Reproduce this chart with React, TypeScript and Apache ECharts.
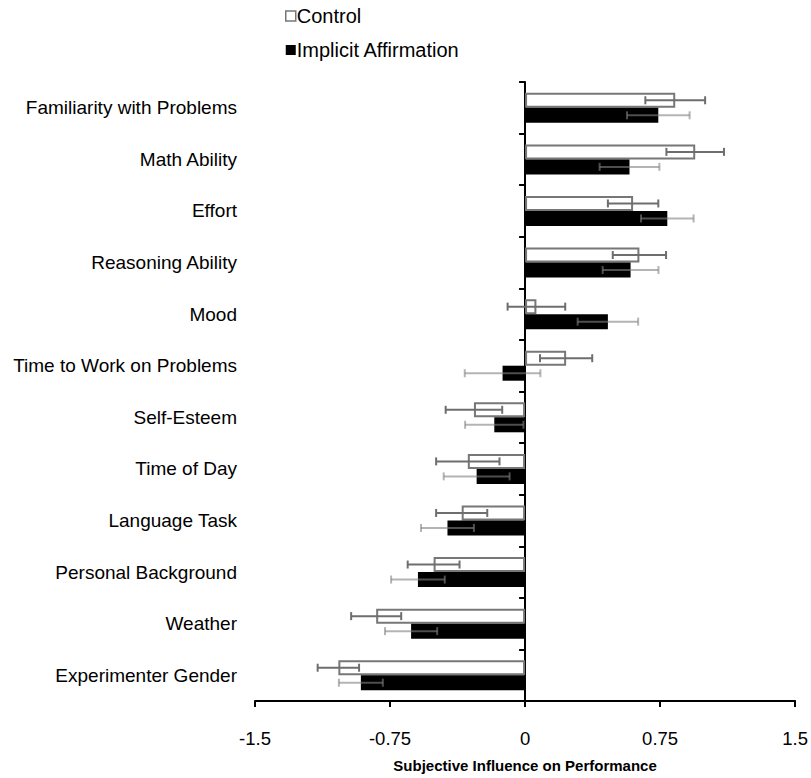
import React, { useEffect, useRef } from "react";
import * as echarts from "echarts";

const categories = [
  "Familiarity with Problems",
  "Math Ability",
  "Effort",
  "Reasoning Ability",
  "Mood",
  "Time to Work on Problems",
  "Self-Esteem",
  "Time of Day",
  "Language Task",
  "Personal Background",
  "Weather",
  "Experimenter Gender",
];
const controlValues = [0.834, 0.945, 0.6, 0.635, 0.063, 0.228, -0.284, -0.318, -0.352, -0.508, -0.827, -1.037];
const controlErrors = [0.166, 0.16, 0.14, 0.148, 0.16, 0.145, 0.157, 0.176, 0.142, 0.144, 0.139, 0.115];
const affirmValues = [0.74, 0.58, 0.79, 0.586, 0.46, -0.125, -0.171, -0.269, -0.431, -0.595, -0.633, -0.912];
const affirmErrors = [0.174, 0.166, 0.146, 0.155, 0.168, 0.21, 0.162, 0.183, 0.147, 0.149, 0.145, 0.122];
const xTicks = { min: -1.5, max: 1.5, interval: 0.75 };

const FONT = "Liberation Sans, Arial, sans-serif";
const BAR_W = 15;

function errorSeries(name: string, values: number[], errors: number[], offset: number, color: string) {
  return {
    type: "custom",
    name: name + " error",
    xAxisIndex: 0,
    yAxisIndex: 0,
    z: 5,
    silent: true,
    data: values.map((v, i) => [v - errors[i], v + errors[i], i]),
    renderItem: (params: any, api: any) => {
      const lo = api.coord([api.value(0), api.value(2)]);
      const hi = api.coord([api.value(1), api.value(2)]);
      const y = lo[1] + offset;
      const cap = 4;
      const style = { stroke: color, lineWidth: 2, fill: "none" };
      return {
        type: "group",
        children: [
          { type: "line", shape: { x1: lo[0], y1: y, x2: hi[0], y2: y }, style },
          { type: "line", shape: { x1: lo[0], y1: y - cap, x2: lo[0], y2: y + cap }, style },
          { type: "line", shape: { x1: hi[0], y1: y - cap, x2: hi[0], y2: y + cap }, style },
        ],
      };
    },
  };
}

export default function App() {
  const ref = useRef<HTMLDivElement>(null);
  useEffect(() => {
    if (!ref.current) return;
    const chart = echarts.init(ref.current, null, { renderer: "svg" });
    chart.setOption({
      animation: false,
      backgroundColor: "#ffffff",
      textStyle: { fontFamily: FONT },
      legend: {
        orient: "vertical",
        left: 280,
        top: 1,
        itemWidth: 10,
        itemHeight: 10,
        itemGap: 14,
        textStyle: { fontFamily: FONT, fontSize: 20, color: "#000", padding: [0, 0, 0, -4] },
        data: [
          { name: "Control", icon: "rect", itemStyle: { color: "#fff", borderColor: "#777", borderWidth: 1.5 } },
          { name: "Implicit Affirmation", icon: "rect", itemStyle: { color: "#000" } },
        ],
      },
      grid: { left: 255, right: 12, top: 82, bottom: 65, containLabel: false },
      xAxis: {
        type: "value",
        min: xTicks.min,
        max: xTicks.max,
        interval: xTicks.interval,
        splitLine: { show: false },
        axisLine: { show: true, onZero: false, lineStyle: { color: "#000", width: 2 } },
        axisTick: { show: true, length: 6, lineStyle: { color: "#000", width: 2 } },
        axisLabel: { fontFamily: FONT, fontSize: 18.5, color: "#000", margin: 28 },
        name: "Subjective Influence on Performance",
        nameLocation: "middle",
        nameGap: 57,
        nameTextStyle: { fontFamily: FONT, fontSize: 15, fontWeight: "bold", color: "#000" },
      },
      yAxis: [
        {
          type: "category",
          data: categories,
          inverse: true,
          position: "left",
          axisLine: { show: true, onZero: true, lineStyle: { color: "#000", width: 2 } },
          axisTick: { show: true, length: 6, lineStyle: { color: "#000", width: 2 } },
          axisLabel: { show: false },
        },
        {
          type: "category",
          data: categories,
          inverse: true,
          position: "left",
          axisLine: { show: false, onZero: false },
          axisTick: { show: false },
          axisLabel: { fontFamily: FONT, fontSize: 19, color: "#000", margin: 18 },
        },
      ],
      series: [
        {
          name: "Control",
          type: "bar",
          yAxisIndex: 0,
          data: controlValues,
          barWidth: BAR_W,
          barGap: "0%",
          itemStyle: { color: "#fff", borderColor: "#777", borderWidth: 2 },
        },
        {
          name: "Implicit Affirmation",
          type: "bar",
          yAxisIndex: 0,
          data: affirmValues,
          barWidth: BAR_W,
          barGap: "0%",
          itemStyle: { color: "#000" },
        },
        errorSeries("Control", controlValues, controlErrors, -BAR_W / 2, "#6e6e6e"),
        errorSeries("Implicit Affirmation", affirmValues, affirmErrors, BAR_W / 2, "rgba(130,130,130,0.6)"),
      ],
    });
    return () => chart.dispose();
  }, []);
  return (
    <div
      ref={ref}
      style={{ position: "fixed", left: 0, top: 0, width: 811, height: 778 }}
    />
  );
}
